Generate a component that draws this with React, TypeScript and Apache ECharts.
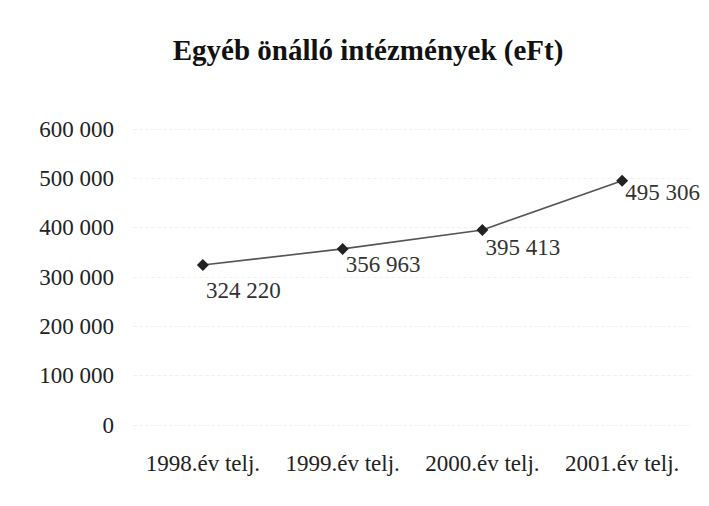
import React, { useEffect, useRef } from "react";
import * as echarts from "echarts";

const categories = ["1998.év telj.", "1999.év telj.", "2000.év telj.", "2001.év telj."];
const values = [324220, 356963, 395413, 495306];
const yMin = 0;
const yMax = 600000;
const yInterval = 100000;

const labelOffsetsY = [25, 16, 18, 12];

const fmt = (v: number) => String(v).replace(/\B(?=(\d{3})+(?!\d))/g, " ");

export default function App() {
  const ref = useRef<HTMLDivElement>(null);
  useEffect(() => {
    if (!ref.current) return;
    const chart = echarts.init(ref.current, null, { renderer: "svg" });
    const font = "Liberation Serif";
    chart.setOption({
      animation: false,
      backgroundColor: "#ffffff",
      title: {
        text: "Egyéb önálló intézmények (eFt)",
        left: 363,
        textAlign: "center",
        top: 30,
        textStyle: { fontFamily: font, fontWeight: "bold", fontSize: 29, color: "#111" },
      },
      grid: { left: 133, right: 17, top: 129, bottom: 81 },
      xAxis: {
        type: "category",
        data: categories,
        boundaryGap: true,
        axisLine: { show: false },
        axisTick: { show: false },
        splitLine: { show: false },
        axisLabel: {
          interval: 0,
          hideOverlap: false,
          fontFamily: font,
          fontSize: 23,
          color: "#222",
          margin: 27,
        },
      },
      yAxis: {
        type: "value",
        min: yMin,
        max: yMax,
        interval: yInterval,
        axisLine: { show: false },
        axisTick: { show: false },
        splitLine: { show: true, lineStyle: { color: "#f2f2f2", type: "dashed", width: 1 } },
        axisLabel: {
          fontFamily: font,
          fontSize: 23,
          color: "#222",
          margin: 19,
          formatter: (v: number) => fmt(v),
        },
      },
      series: [
        {
          type: "line",
          data: values.map((v, i) => ({
            value: v,
            label: { offset: [-3, labelOffsetsY[i]] },
          })),
          symbol: "diamond",
          symbolSize: 12,
          itemStyle: { color: "#222" },
          lineStyle: { color: "#555", width: 1.6 },
          label: {
            show: true,
            position: "right",
            distance: 0,
            fontFamily: font,
            fontSize: 23,
            color: "#333",
            formatter: (p: any) => fmt(p.value),
          },
        },
      ],
    });
    return () => chart.dispose();
  }, []);
  return <div ref={ref} style={{ width: 709, height: 506, margin: -8 }} />;
}
